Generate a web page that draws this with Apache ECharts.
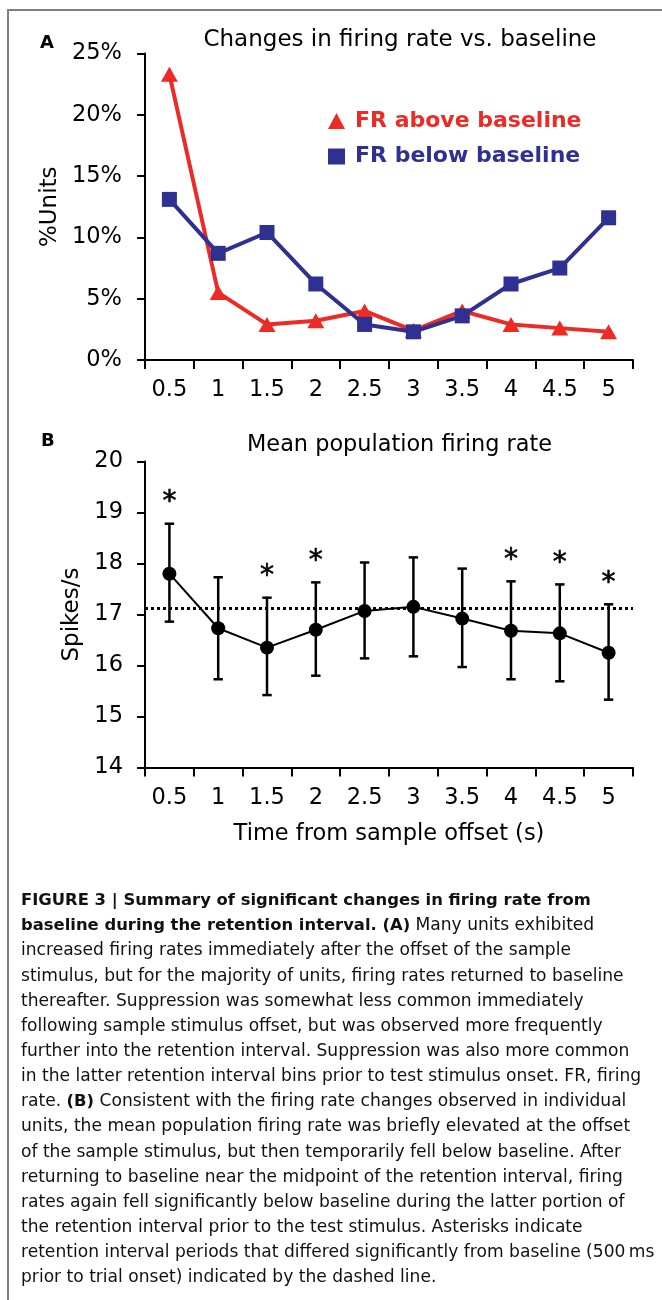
<!DOCTYPE html>
<html><head><meta charset="utf-8">
<script src="https://cdn.jsdelivr.net/npm/echarts@6/dist/echarts.min.js"></script>
<style>html,body{margin:0;padding:0;background:#fff}#c{width:662px;height:1300px}</style>
</head><body><div id="c"></div>
<script>
// ---- data ----
const categories = ['0.5','1','1.5','2','2.5','3','3.5','4','4.5','5'];
const frAbove = [23.3, 5.5, 2.9, 3.2, 4.0, 2.4, 4.0, 2.9, 2.6, 2.3];
const frBelow = [13.1, 8.7, 10.4, 6.2, 2.9, 2.3, 3.6, 6.2, 7.5, 11.6];
const meanRate = [17.80, 16.73, 16.35, 16.70, 17.07, 17.15, 16.92, 16.68, 16.63, 16.25];
const errUpper = [18.78, 17.73, 17.33, 17.63, 18.02, 18.12, 17.90, 17.65, 17.59, 17.20];
const errLower = [16.86, 15.73, 15.42, 15.80, 16.14, 16.18, 15.97, 15.73, 15.69, 15.33];
const significant = [1, 0, 1, 1, 0, 0, 0, 1, 1, 1];
const baselineRate = 17.12;
const seriesNames = ['FR above baseline', 'FR below baseline'];
const titleA = 'Changes in firing rate vs. baseline';
const titleB = 'Mean population firing rate';
const yNameA = '%Units';
const yNameB = 'Spikes/s';
const xNameB = 'Time from sample offset (s)';
const captionLines = [
  '{b|FIGURE 3 | Summary of significant changes in firing rate from}',
  '{b|baseline during the retention interval. (A)} Many units exhibited',
  'increased firing rates immediately after the offset of the sample',
  'stimulus, but for the majority of units, firing rates returned to baseline',
  'thereafter. Suppression was somewhat less common immediately',
  'following sample stimulus offset, but was observed more frequently',
  'further into the retention interval. Suppression was also more common',
  'in the latter retention interval bins prior to test stimulus onset. FR, firing',
  'rate. {b|(B)} Consistent with the firing rate changes observed in individual',
  'units, the mean population firing rate was briefly elevated at the offset',
  'of the sample stimulus, but then temporarily fell below baseline. After',
  'returning to baseline near the midpoint of the retention interval, firing',
  'rates again fell significantly below baseline during the latter portion of',
  'the retention interval prior to the test stimulus. Asterisks indicate',
  'retention interval periods that differed significantly from baseline (500\u2009ms',
  'prior to trial onset) indicated by the dashed line.'
];

// ---- style ----
const FONT = 'DejaVu Sans';
const RED = '#ED2A24';
const BLUE = '#2E3192';
const gridLeft = 145, gridRight = 29;

const chart = echarts.init(document.getElementById('c'));

const errData = categories.map((c, i) => [i, errUpper[i], errLower[i], significant[i]]);

function xAxisDef(gridIndex, extra) {
  return Object.assign({
    type: 'category', gridIndex, data: categories, boundaryGap: true,
    axisLine: { lineStyle: { color: '#000', width: 2 } },
    axisTick: { show: true, length: 9, lineStyle: { color: '#000', width: 2 } },
    axisLabel: { interval: 0, margin: 19, fontFamily: FONT, fontSize: 22.5, color: '#000' },
    splitLine: { show: false }
  }, extra || {});
}

const captionGraphics = captionLines.map((t, i) => ({
  type: 'text', x: 21, y: 900.7 + 25.15 * i,
  style: {
    text: t, x: 0, y: 0, fill: '#111', fontFamily: FONT, fontSize: 17.1,
    verticalAlign: 'middle', align: 'left',
    rich: { b: { fontFamily: FONT, fontSize: 16.4, fontWeight: 'bold', fill: '#111' } }
  }
}));

const option = {
  backgroundColor: '#fff',
  animation: false,
  grid: [
    { left: gridLeft, right: gridRight, top: 53.5, height: 306.5 },
    { left: gridLeft, right: gridRight, top: 461.5, height: 306 }
  ],
  legend: {
    orient: 'vertical', left: 328, top: 110, padding: 0,
    itemWidth: 17, itemHeight: 16, itemGap: 13.5,
    selectedMode: false,
    textStyle: { fontFamily: FONT, fontSize: 22, fontWeight: 'bold', padding: [0, 0, 0, 5] },
    data: [
      { name: seriesNames[0], icon: 'triangle', textStyle: { color: RED } },
      { name: seriesNames[1], icon: 'rect', textStyle: { color: BLUE } }
    ]
  },
  xAxis: [
    xAxisDef(0),
    xAxisDef(1, {
      name: xNameB, nameLocation: 'middle', nameGap: 55,
      nameTextStyle: { fontFamily: FONT, fontSize: 22.5, color: '#000' }
    })
  ],
  yAxis: [
    {
      type: 'value', gridIndex: 0, min: 0, max: 25, interval: 5,
      splitLine: { show: false },
      axisLine: { show: true, lineStyle: { color: '#000', width: 2 } },
      axisTick: { show: true, length: 8, lineStyle: { color: '#000', width: 2 } },
      axisLabel: { formatter: '{value}%', margin: 23, fontFamily: FONT, fontSize: 22.5, color: '#000' },
      name: yNameA, nameLocation: 'middle', nameGap: 80,
      nameTextStyle: { fontFamily: FONT, fontSize: 23, color: '#000' }
    },
    {
      type: 'value', gridIndex: 1, min: 14, max: 20, interval: 1,
      splitLine: { show: false },
      axisLine: { show: true, lineStyle: { color: '#000', width: 2 } },
      axisTick: { show: true, length: 8, lineStyle: { color: '#000', width: 2 } },
      axisLabel: { margin: 22, fontFamily: FONT, fontSize: 22.5, color: '#000' },
      name: yNameB, nameLocation: 'middle', nameGap: 61,
      nameTextStyle: { fontFamily: FONT, fontSize: 23, color: '#000' }
    }
  ],
  series: [
    {
      name: seriesNames[0], type: 'line', xAxisIndex: 0, yAxisIndex: 0, data: frAbove,
      symbol: 'triangle', symbolSize: [17, 15], z: 3,
      lineStyle: { color: RED, width: 4 }, itemStyle: { color: RED }
    },
    {
      name: seriesNames[1], type: 'line', xAxisIndex: 0, yAxisIndex: 0, data: frBelow,
      symbol: 'rect', symbolSize: [15, 15], z: 4,
      lineStyle: { color: BLUE, width: 4 }, itemStyle: { color: BLUE }
    },
    {
      name: 'baseline', type: 'line', xAxisIndex: 1, yAxisIndex: 1, data: meanRate,
      showSymbol: false, symbol: 'none', lineStyle: { width: 0, opacity: 0 }, silent: true, z: 1,
      markLine: {
        symbol: 'none', silent: true, label: { show: false },
        lineStyle: { color: '#000', width: 3, type: [3, 3] },
        data: [{ yAxis: baselineRate }]
      }
    },
    {
      name: 'err', type: 'custom', xAxisIndex: 1, yAxisIndex: 1, data: errData, z: 2,
      renderItem: function (params, api) {
        const x = api.value(0);
        const hi = api.coord([x, api.value(1)]);
        const lo = api.coord([x, api.value(2)]);
        const w = 4.7;
        const st = { stroke: '#000', lineWidth: 2.5 };
        const children = [
          { type: 'line', shape: { x1: hi[0], y1: hi[1], x2: lo[0], y2: lo[1] }, style: st },
          { type: 'line', shape: { x1: hi[0] - w, y1: hi[1], x2: hi[0] + w, y2: hi[1] }, style: st },
          { type: 'line', shape: { x1: lo[0] - w, y1: lo[1], x2: lo[0] + w, y2: lo[1] }, style: st }
        ];
        if (api.value(3)) {
          children.push({
            type: 'text',
            style: { text: '*', x: hi[0], y: hi[1] - 21, align: 'center', verticalAlign: 'middle',
                     fontFamily: FONT, fontSize: 28, fill: '#000', stroke: '#000', lineWidth: 0.6 }
          });
        }
        return { type: 'group', children };
      }
    },
    {
      name: 'mean', type: 'line', xAxisIndex: 1, yAxisIndex: 1, data: meanRate,
      symbol: 'circle', symbolSize: 14, z: 5,
      lineStyle: { color: '#000', width: 2 }, itemStyle: { color: '#000' }
    }
  ],
  graphic: [
    { type: 'polyline', shape: { points: [[8, 1300], [8, 10], [662, 10]] },
      style: { stroke: '#808080', lineWidth: 2, fill: null }, silent: true },
    { type: 'text', x: 40, y: 43, style: { text: 'A', fontFamily: FONT, fontSize: 18, fontWeight: 'bold', fill: '#000', verticalAlign: 'middle' } },
    { type: 'text', x: 41, y: 441.5, style: { text: 'B', fontFamily: FONT, fontSize: 18, fontWeight: 'bold', fill: '#000', verticalAlign: 'middle' } },
    { type: 'text', x: 400, y: 40, style: { text: titleA, fontFamily: FONT, fontSize: 23, fill: '#000', align: 'center', verticalAlign: 'middle' } },
    { type: 'text', x: 399.5, y: 445.5, style: { text: titleB, fontFamily: FONT, fontSize: 22.4, fill: '#000', align: 'center', verticalAlign: 'middle' } }
  ].concat(captionGraphics)
};
chart.setOption(option);
</script>
</body></html>
